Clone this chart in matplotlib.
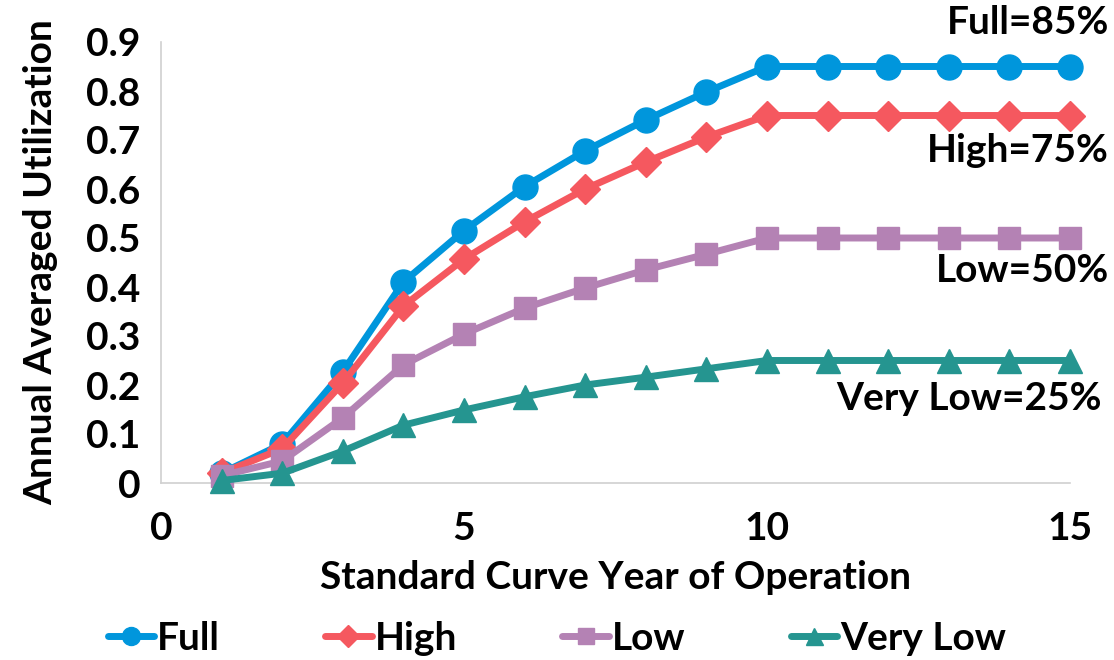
import matplotlib
matplotlib.use("Agg")
import matplotlib.pyplot as plt
from matplotlib.lines import Line2D

years = list(range(1, 16))
full = [0.02, 0.08, 0.227, 0.41, 0.515, 0.605, 0.678, 0.741, 0.798, 0.85, 0.85, 0.85, 0.85, 0.85, 0.85]
high = [0.02, 0.07, 0.204, 0.361, 0.457, 0.533, 0.600, 0.655, 0.706, 0.75, 0.75, 0.75, 0.75, 0.75, 0.75]
low = [0.015, 0.045, 0.133, 0.241, 0.304, 0.357, 0.398, 0.435, 0.467, 0.50, 0.50, 0.50, 0.50, 0.50, 0.50]
very_low = [0.005, 0.02, 0.065, 0.118, 0.149, 0.176, 0.200, 0.216, 0.233, 0.25, 0.25, 0.25, 0.25, 0.25, 0.25]
series_names = ["Full", "High", "Low", "Very Low"]
annotations = ["Full=85%", "High=75%", "Low=50%", "Very Low=25%"]
y_ticks = [0, 0.1, 0.2, 0.3, 0.4, 0.5, 0.6, 0.7, 0.8, 0.9]
y_tick_labels = ["0", "0.1", "0.2", "0.3", "0.4", "0.5", "0.6", "0.7", "0.8", "0.9"]
x_ticks = [0, 5, 10, 15]

plt.rcParams['font.family'] = ['Lato', 'DejaVu Sans']
plt.rcParams['font.weight'] = 'bold'

colors = ["#0096DC", "#F5585F", "#B482B4", "#259590"]
markers = ["o", "D", "s", "^"]
msizes = [18, 15, 16, 17]

fig = plt.figure(figsize=(11.14, 6.6), dpi=100)
ax = fig.add_axes([161 / 1114, 1 - 483 / 660, 909 / 1114, 441 / 660])

handles = []
for data, c, m, ms, name in zip([full, high, low, very_low], colors, markers, msizes, series_names):
    ax.plot(years, data, color=c, marker=m, markersize=ms, linewidth=5,
            label=name, clip_on=False, zorder=3)
    handles.append(Line2D([], [], color=c, marker=m, markersize=ms * 0.72, linewidth=5,
                          solid_capstyle='round', label=name))

ax.set_xlim(0, 15)
ax.set_ylim(0, 0.9)
ax.set_xticks(x_ticks)
ax.set_xticklabels([str(t) for t in x_ticks], fontsize=28, fontweight='bold')
ax.set_yticks(y_ticks)
ax.set_yticklabels(y_tick_labels, fontsize=28, fontweight='bold')
ax.tick_params(axis='both', length=0)
ax.tick_params(axis='y', pad=15)
ax.tick_params(axis='x', pad=20)
for s in ["top", "right"]:
    ax.spines[s].set_visible(False)
for s in ["left", "bottom"]:
    ax.spines[s].set_color("#D0D0D0")
    ax.spines[s].set_linewidth(1.2)

ax.set_xlabel("Standard Curve Year of Operation", fontsize=28, fontweight='bold', labelpad=10)
ax.set_ylabel("Annual Averaged Utilization", fontsize=28, fontweight='bold', labelpad=20)

ann_y = [22, 150, 270, 398]
ann_x = [1109, 1109, 1109, 1102]
for txt, yy, xx in zip(annotations, ann_y, ann_x):
    fig.text(xx / 1114, 1 - yy / 660, txt, fontsize=28, fontweight='bold', ha='right', va='center')

fig.legend(handles=handles, loc='center', bbox_to_anchor=(0.5, 1 - 638 / 660), ncol=4, frameon=False,
           handlelength=1.2, handletextpad=0.08, columnspacing=2.7,
           prop={'weight': 'bold', 'size': 28})

fig.savefig("out.png", dpi=100)
